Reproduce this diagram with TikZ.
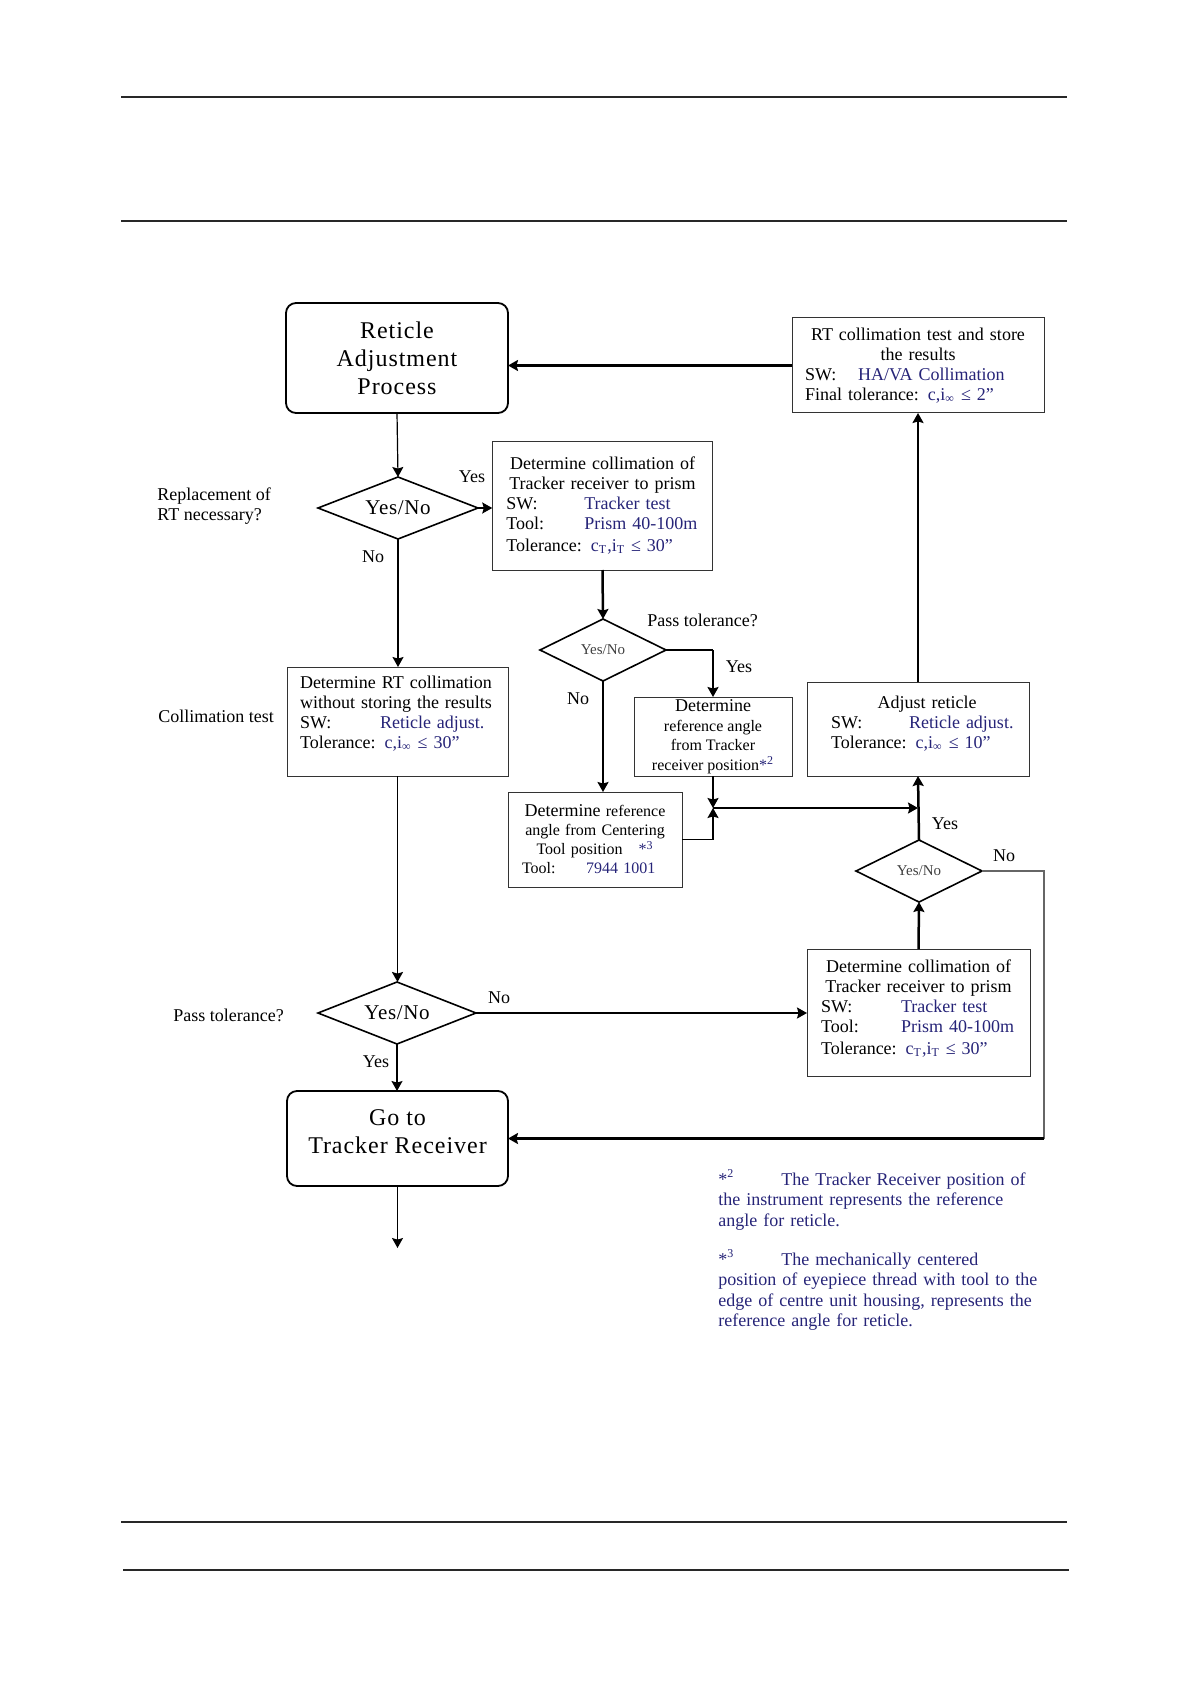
\documentclass[tikz,border=0pt]{standalone}
\usepackage{fontspec}
\setmainfont{Liberation Serif}
\usetikzlibrary{shapes.geometric,arrows.meta}
\definecolor{navy}{RGB}{38,36,120}
\definecolor{rulegray}{RGB}{40,40,40}
\newcommand{\fs}[2]{\fontsize{#1}{#2}\selectfont}
\newcommand{\blu}[1]{\textcolor{navy}{#1}}
\newcommand{\ctr}[1]{\makebox[\linewidth]{#1}}
\newcommand{\tabl}[2]{\makebox[#1][l]{#2}}
\tikzset{
  bx/.style={draw=black!80, line width=0.5pt, inner ysep=0pt, outer sep=0pt, align=left, font=\fs{9}{10}},
  rbx/.style={draw=black, line width=0.9pt, rounded corners=5pt, inner sep=0pt, outer sep=0pt, align=center, font={\fs{12}{14}\addfontfeatures{LetterSpace=4}}},
  dia/.style={diamond, draw=black, line width=0.8pt, inner sep=0pt, outer sep=0pt},
  bigyn/.style={font={\fs{10.5}{12}\addfontfeatures{LetterSpace=3}}},
  smallyn/.style={font=\fs{7.5}{9}, text=black!75},
  lbl/.style={font=\fs{9}{10}, inner sep=0pt, align=left},
  fn/.style={font=\fs{9}{10.3}, text=navy, inner sep=0pt, align=left, text width=175pt, anchor=base west},
  cthin/.style={line width=0.6pt},
  cmed/.style={line width=0.9pt},
  cthick/.style={line width=1.25pt},
  pagerule/.style={draw=rulegray, line width=0.6pt},
}
\begin{document}
\begin{tikzpicture}[x=0.5pt,y=-0.5pt,>={Stealth[length=5pt,width=5.5pt,inset=0.8pt]}]
\useasboundingbox (0,0) rectangle (1190,1684);
% page rules
\draw[pagerule] (121,97) -- (1067,97);
\draw[pagerule] (121,221) -- (1067,221);
\draw[pagerule] (121,1522) -- (1067,1522);
\draw[pagerule] (123,1570) -- (1069,1570);

% boxes
\node[rbx, minimum width=111pt, minimum height=55pt] (ret) at (397,358) {Reticle\\Adjustment\\Process};

\node[bx, minimum width=126pt, minimum height=47.5pt, text width=113pt, inner xsep=6.5pt] (rt) at (918,365.5)
 {\ctr{RT collimation test and store}\\ \ctr{the results}\\ \tabl{26.5pt}{SW:}\blu{HA/VA Collimation}\\ Final tolerance: \blu{c,i\textsubscript{∞} ≤ 2”}};

\node[dia, bigyn, minimum width=80pt, minimum height=31pt, aspect=2.58] (d1) at (398,508) {Yes/No};

\node[bx, minimum width=110.25pt, minimum height=64pt, text width=96.25pt, inner xsep=7pt] (A) at (602.5,506)
 {\ctr{Determine collimation of}\\ \ctr{Tracker receiver to prism}\\ \tabl{39pt}{SW:}\blu{Tracker test}\\ \tabl{39pt}{Tool:}\blu{Prism 40-100m}\\[1pt] Tolerance: \blu{c\textsubscript{T},i\textsubscript{T} ≤ 30”}};

\node[bx, minimum width=110.5pt, minimum height=54.5pt, text width=97.5pt, inner xsep=6.5pt] (coll) at (397.5,721.5)
 {Determine RT collimation\\ without storing the results\\ \tabl{40pt}{SW:}\blu{Reticle adjust.}\\ Tolerance: \blu{c,i\textsubscript{∞} ≤ 30”}\rule[-9pt]{0pt}{9pt}};

\node[dia, smallyn, minimum width=63pt, minimum height=31pt, aspect=2.03] (d2) at (603,650) {Yes/No};

\node[bx, align=center, minimum width=79pt, minimum height=39.5pt, inner xsep=2pt, font=\fs{8}{9.75}] (B) at (713,736.5)
 {{\fs{9}{9.75}Determine}\\ reference angle\\ from Tracker\\ receiver position\blu{*\textsuperscript{2}}};

\node[bx, minimum width=87pt, minimum height=47.5pt, text width=73pt, inner xsep=7pt, font=\fs{8}{9.5}] (C) at (595,839.5)
 {\ctr{{\fs{9}{9.5}Determine} reference}\\ \ctr{angle from Centering}\\ \ctr{Tool position\quad\blu{*\textsuperscript{3}}}\\ \tabl{32pt}{Tool:}\blu{7944 1001}};

\node[bx, minimum width=111pt, minimum height=47pt, text width=95pt, inner xsep=8pt] (D) at (918,729)
 {\ctr{\hspace{9pt}Adjust reticle}\\ \hspace*{4pt}\tabl{39pt}{SW:}\mbox{\blu{Reticle adjust.}}\\ \hspace*{4pt}Tolerance: \blu{c,i\textsubscript{∞} ≤ 10”}\rule[-7pt]{0pt}{7pt}};

\node[dia, smallyn, minimum width=63pt, minimum height=31pt, aspect=2.03] (d3) at (919,871) {Yes/No};

\node[bx, minimum width=111.5pt, minimum height=63.5pt, text width=97.5pt, inner xsep=7pt] (E) at (918.5,1012.5)
 {\ctr{Determine collimation of}\\ \ctr{Tracker receiver to prism}\\ \tabl{40pt}{SW:}\blu{Tracker test}\\ \tabl{40pt}{Tool:}\blu{Prism 40-100m}\\[1pt] Tolerance: \blu{c\textsubscript{T},i\textsubscript{T} ≤ 30”}\rule[-5pt]{0pt}{5pt}};

\node[dia, bigyn, minimum width=79pt, minimum height=31pt, aspect=2.55] (d4) at (397,1013) {Yes/No};

\node[rbx, minimum width=110.5pt, minimum height=47.5pt] (go) at (397.5,1138.5) {Go to\\Tracker Receiver\rule[-7pt]{0pt}{7pt}};

% side labels
\node[lbl, anchor=west] (qrep) at (157,506) {Replacement of\\RT necessary?};
\node[lbl, anchor=west] (qcol) at (158,716) {Collimation test};
\node[lbl, anchor=west] (qpass1) at (647,620) {Pass tolerance?};
\node[lbl, anchor=west] (qpass2) at (173,1015) {Pass tolerance?};
\node[lbl] (y1) at (472,477) {Yes};
\node[lbl] (n1) at (373,557) {No};
\node[lbl] (y2) at (739,667) {Yes};
\node[lbl] (n2) at (578,699) {No};
\node[lbl] (y3) at (945,824) {Yes};
\node[lbl] (n3) at (1004,856) {No};
\node[lbl] (n4) at (499,998) {No};
\node[lbl] (y4) at (376,1062) {Yes};

% footnotes
\node[fn] (fn2) at (718,1185) {\tabl{31.5pt}{*\textsuperscript{2}}The Tracker Receiver position of\\the instrument represents the reference\\angle for reticle.};
\node[fn] (fn3) at (718,1265) {\tabl{31.5pt}{*\textsuperscript{3}}The mechanically centered\\position of eyepiece thread with tool to the\\edge of centre unit housing, represents the\\reference angle for reticle.};

% helper coordinates
\coordinate (bY) at (713,650);
\coordinate (J) at (713,808);
\coordinate (K) at (1044,1138.5);
\coordinate (endp) at (397.5,1248);

% connectors
\draw[cthick,->] (rt.west) -- (rt.west -| ret.east);
\draw[cthin,->] (ret.south) -- (d1.north);
\draw[cmed,->] (d1.east) -- (A.west |- d1.east);
\draw[cthin,->] (d1.south) -- (d1.south |- coll.north);
\draw[cthick,->] (A.south) -- (d2.north);
\draw[cthin] (d2.east) -- (bY);
\draw[cthick,->] (bY) -- (B.north);
\draw[cthick,->] (d2.south) -- (d2.south |- C.north);
\draw[cmed,->] (B.south) -- (J);
\draw[cthin] (C.east) -- (C.east -| J);
\draw[cmed,->] (C.east -| J) -- (J);
\draw[cthick,->] (J) -- (J -| D.south);
\draw[cthick,->] (d3.north) -- (D.south);
\draw[cthick,->] (D.north) -- (rt.south);
\draw[cthick,->] (E.north) -- (d3.south);
\draw[cthin, draw=black!60] (d3.east) -| (K);
\draw[cthick,->] (K) -- (go.east);
\draw[cmed,->] (coll.south) -- (coll.south |- d4.north);
\draw[cthick,->] (d4.east) -- (d4.east -| E.west);
\draw[cthin,->] (d4.south) -- (d4.south |- go.north);
\draw[cthin,->] (go.south) -- (endp);
\end{tikzpicture}
\end{document}
